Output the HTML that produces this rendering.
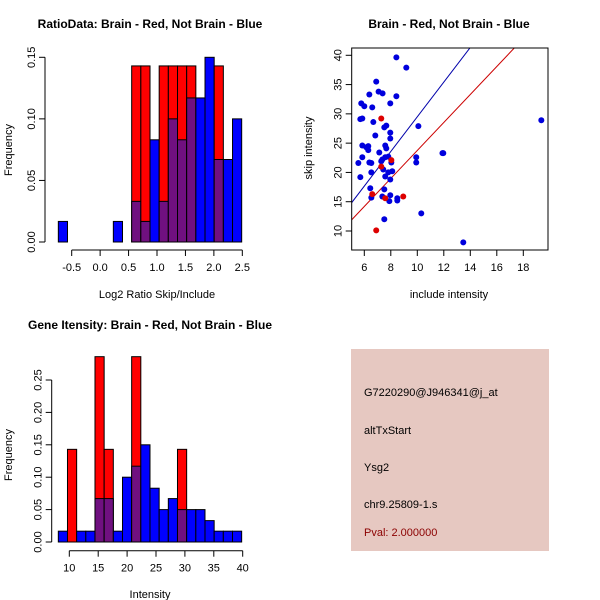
<!DOCTYPE html>
<html><head><meta charset="utf-8"><style>
body{margin:0;background:#fff;}
svg{display:block;font-family:"Liberation Sans",Arial,sans-serif;}
</style></head><body>
<svg id="s" width="600" height="600" viewBox="0 0 600 600"></svg>
<script>
// ---- data ----
const ratioBlue = [0.0167,0,0,0,0,0,0.0167,0,0.033,0.0167,0.083,0.033,0.1,0.083,0.117,0.117,0.15,0.067,0.067,0.1];
const ratioRed  = [0,0,0,0,0,0,0,0,0.143,0.143,0,0.143,0.143,0.143,0.143,0,0,0.143,0,0];
const ratioBinStart = -0.735, ratioBinWidth = 0.1612;
const ratioXTicks = [-0.5,0.0,0.5,1.0,1.5,2.0,2.5];
const ratioYTicks = [0,0.05,0.10,0.15];

const intBlue = [0.0167,0,0.0167,0.0167,0.067,0.067,0.0167,0.1,0.117,0.15,0.083,0.05,0.067,0.05,0.05,0.05,0.033,0.0167,0.0167,0.0167];
const intRed  = [0,0.143,0,0,0.286,0.143,0,0,0.286,0,0,0,0,0.143,0,0,0,0,0,0];
const intBinStart = 8.1, intBinWidth = 1.586;
const intXTicks = [10,15,20,25,30,35,40];
const intYTicks = [0,0.05,0.10,0.15,0.20,0.25];

const blueX = [8.42,9.17,6.9,7.08,6.38,7.38,8.42,5.77,6.0,6.6,7.96,5.7,5.85,6.68,7.66,7.51,7.96,10.08,6.83,7.96,5.85,6.15,6.3,6.3,7.58,7.66,7.13,5.85,7.36,7.28,7.58,7.81,9.92,9.92,11.9,11.96,5.55,6.38,6.53,8.04,7.43,6.53,7.81,8.11,5.7,7.58,7.96,6.45,7.51,6.53,7.36,7.96,8.49,8.49,7.89,10.3,7.51,13.47,19.36];
const blueY = [39.65,37.9,35.5,33.8,33.3,33.5,33.0,31.8,31.3,31.1,31.8,29.1,29.2,28.6,28.0,27.7,26.8,27.9,26.3,25.8,24.6,24.3,24.5,23.8,24.6,24.1,23.4,22.6,22.2,21.9,22.6,22.7,22.6,21.7,23.3,23.3,21.6,21.7,21.6,21.7,20.5,20.0,20.0,20.2,19.2,19.3,18.8,17.3,17.1,15.7,15.9,16.1,15.6,15.2,15.1,13.0,12.0,8.06,28.9];
const redX = [7.28,7.28,8.04,6.6,7.58,8.94,6.9];
const redY = [29.2,21.0,22.1,16.3,15.6,15.9,10.1];
const blueLine = [14.7-5*2.96, 2.96]; // intercept, slope
const redLine = [11.8-5*2.39, 2.39];
const scXTicks = [6,8,10,12,14,16,18];
const scYTicks = [10,15,20,25,30,35,40];

// ---- helpers ----
const S = document.getElementById('s');
const NS = 'http://www.w3.org/2000/svg';
function mk(tag, at, parent){const e=document.createElementNS(NS,tag);for(const k in at)e.setAttribute(k,at[k]);(parent||S).appendChild(e);return e;}
function txt(x,y,s,size,opts){opts=opts||{};const t=mk('text',{x:x,y:y,'font-size':size,'text-anchor':opts.anchor||'middle',fill:opts.fill||'#000'});if(opts.bold)t.setAttribute('font-weight','bold');if(opts.rot)t.setAttribute('transform','rotate(-90 '+x+' '+y+')');t.textContent=s;return t;}
const PURPLE='rgb(112,16,128)';

function hist(blue, red, start, width, X, Y, xt, yt, name, axisY, yAxisX, yLabFmt){
  const g = mk('g',{});
  
  
  for(let i=0;i<blue.length;i++){
    const x0=X(start+i*width), x1=X(start+(i+1)*width);
    const b=blue[i], r=red[i];
    const draw=(v,c,nm)=>{if(v<=0)return;const e=mk('rect',{x:x0,y:Y(v),width:x1-x0,height:Y(0)-Y(v),fill:c,stroke:'#000','stroke-width':1},g);
      
      };
    if(b>=r){draw(b,'#0000ff','bar-blue');}else{draw(r,'#ff0000','bar-red');}
    if(b>0&&r>0){draw(Math.min(b,r),PURPLE,'bar-overlap');}
    else if(b<r){} else if(r>0){draw(r,'#ff0000','bar-red');}
  }
  // x axis
  mk('line',{x1:X(xt[0]),x2:X(xt[xt.length-1]),y1:axisY,y2:axisY,stroke:'#000'},g);
  xt.forEach(v=>{mk('line',{x1:X(v),x2:X(v),y1:axisY,y2:axisY+6,stroke:'#000'},g);
    const t=txt(X(v),axisY+21,String(v.toFixed ? (Number.isInteger(v)&&v>=5?v:v.toFixed(1)):v),11);
    
    });
  mk('line',{x1:yAxisX,x2:yAxisX,y1:Y(yt[0]),y2:Y(yt[yt.length-1]),stroke:'#000'},g);
  yt.forEach(v=>{mk('line',{x1:yAxisX-6,x2:yAxisX,y1:Y(v),y2:Y(v),stroke:'#000'},g);
    const t=txt(yAxisX-10,Y(v),yLabFmt(v),11,{rot:true});
    
    });
}

// plot 1
{
  const X=v=>71.7+(v+0.5)*56.87, Y=v=>242-v*(184.7/0.15);
  hist(ratioBlue,ratioRed,ratioBinStart,ratioBinWidth,X,Y,ratioXTicks,ratioYTicks,'ratio-histogram',250,45,v=>v.toFixed(2));
  const t1=txt(150,28,'RatioData: Brain - Red, Not Brain - Blue',12,{bold:true});
   
  const t2=txt(157,298,'Log2 Ratio Skip/Include',11);
   
  const t3=txt(12,150,'Frequency',11,{rot:true});
   
}
// plot 3
{
  const X=v=>69.3+(v-10)*5.78, Y=v=>542-v*(162/0.25);
  hist(intBlue,intRed,intBinStart,intBinWidth,X,Y,intXTicks,intYTicks,'intensity-histogram',550.7,51.7,v=>v.toFixed(2));
  const t1=txt(150,329,'Gene Itensity: Brain - Red, Not Brain - Blue',12,{bold:true});
   
  const t2=txt(150,598,'Intensity',11);
   
  const t3=txt(12,455,'Frequency',11,{rot:true});
   
}
// plot 2 scatter
{
  const X=v=>364.3+(v-6)*13.25, Y=v=>231-(v-10)*5.857;
  const L=351.7,R=548,T=48,B=250;
  const g=mk('g',{});
  
  
  const cp=mk('clipPath',{id:'cp'},g); mk('rect',{x:L,y:T,width:R-L,height:B-T},cp);
  const lines=mk('g',{'clip-path':'url(#cp)'},g);
  const xa=4, xb=25;
  const bl=mk('line',{x1:X(xa),y1:Y(blueLine[0]+blueLine[1]*xa),x2:X(xb),y2:Y(blueLine[0]+blueLine[1]*xb),stroke:'#0000aa','stroke-width':1},lines);
   
  const rl=mk('line',{x1:X(xa),y1:Y(redLine[0]+redLine[1]*xa),x2:X(xb),y2:Y(redLine[0]+redLine[1]*xb),stroke:'#cc0000','stroke-width':1},lines);
   
  blueX.forEach((v,i)=>{const c=mk('circle',{cx:X(v),cy:Y(blueY[i]),r:3,fill:'#0000dd'},g);
    
    });
  redX.forEach((v,i)=>{const c=mk('circle',{cx:X(v),cy:Y(redY[i]),r:3,fill:'#dd0000'},g);
    
    });
  mk('rect',{x:L,y:T,width:R-L,height:B-T,fill:'none',stroke:'#000'},g);
  scXTicks.forEach(v=>{mk('line',{x1:X(v),x2:X(v),y1:B,y2:B+6,stroke:'#000'},g);
    const t=txt(X(v),B+21,String(v),11);
     });
  scYTicks.forEach(v=>{mk('line',{x1:L-6,x2:L,y1:Y(v),y2:Y(v),stroke:'#000'},g);
    const t=txt(L-10,Y(v),String(v),11,{rot:true});
     });
  const t1=txt(449,28,'Brain - Red, Not Brain - Blue',12,{bold:true});
   
  const t2=txt(449,298,'include intensity',11);
   
  const t3=txt(312,148,'skip intensity',11,{rot:true});
   
}
// info box
{
  const g=mk('g',{});
  
  
  mk('rect',{x:351,y:349,width:198,height:202,fill:'#e6c8c1'},g);
  const rows=[['G7220290@J946341@j_at',396,'probe-id','#000'],['altTxStart',434,'event-type','#000'],['Ysg2',471,'gene-name','#000'],['chr9.25809-1.s',508,'location','#000'],['Pval: 2.000000',536,'p-value','#8b0000']];
  rows.forEach(r=>{const t=txt(364,r[1],r[0],11,{anchor:'start',fill:r[3]});
    
    });
}
</script>
</body></html>
